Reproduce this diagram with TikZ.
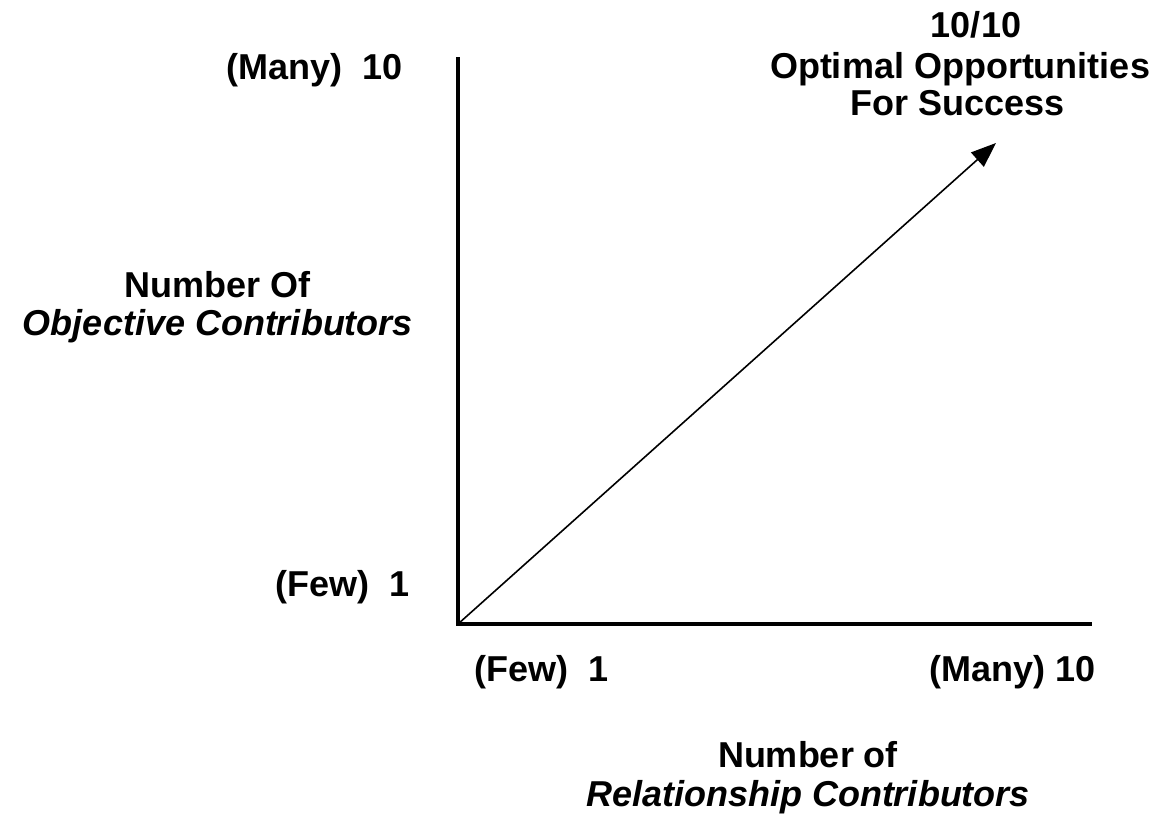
\documentclass[tikz,border=0pt]{standalone}
\usepackage{fontspec}
\setmainfont{Liberation Sans}
\usetikzlibrary{arrows.meta}
\begin{document}
\begin{tikzpicture}[x=1pt,y=-1pt,
  lbl/.style={font=\fontsize{36}{40}\selectfont\bfseries, inner sep=0pt},
  axis/.style={line width=4pt},
  trend/.style={line width=1.6pt, -{Triangle[length=25pt,width=19pt]}}]
\useasboundingbox[fill=white] (0,0) rectangle (1162,819);
% axes
\coordinate (O) at (458,624);
\coordinate (ytop) at (458,57);
\coordinate (xend) at (1092,624);
\coordinate (tip) at (996,143);
\draw[axis] (ytop) -- (O) -- (xend);
\draw[trend] (O) -- (tip);
% vertical axis labels
\node[lbl, anchor=base east] (ymany) at (403,79) {(Many)\ \ 10};
\node[lbl, anchor=base east] (yfew) at (410,596) {(Few)\ \ 1};
\node[lbl, anchor=base] (ytitle1) at (218,297) {Number Of};
\node[lbl, anchor=base] (ytitle2) at (218,335) {\itshape Objective Contributors};
% horizontal axis labels
\node[lbl, anchor=base west] (xfew) at (474,681) {(Few)\ \ 1};
\node[lbl, anchor=base east] (xmany) at (1096,681) {(Many) 10};
\node[lbl, anchor=base] (xtitle1) at (808,767) {Number of};
\node[lbl, anchor=base] (xtitle2) at (808,806) {\itshape Relationship Contributors};
% goal text
\node[lbl, anchor=base] (goal1) at (976,37) {10/10};
\node[lbl, anchor=base] (goal2) at (960,78) {Optimal Opportunities};
\node[lbl, anchor=base] (goal3) at (958,115) {For Success};
\end{tikzpicture}
\end{document}
